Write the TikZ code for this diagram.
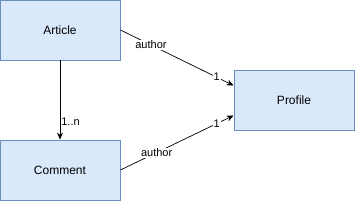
\documentclass[tikz,border=0pt]{standalone}
\usepackage{fontspec}
\setmainfont{Liberation Sans}
\usetikzlibrary{arrows.meta}
\definecolor{boxfill}{HTML}{DAE8FC}
\definecolor{boxline}{HTML}{6C8EBF}
\begin{document}
\begin{tikzpicture}[>={Stealth[length=7pt,width=6pt]},x=1pt,y=-1pt,
	entity/.style={draw=boxline,fill=boxfill,line width=0.8pt,minimum width=120pt,minimum height=60pt,font=\fontsize{12}{14}\selectfont},
	lbl/.style={fill=white,inner sep=1pt,font=\fontsize{11}{13}\selectfont}]
	\useasboundingbox (0,0) rectangle (355,201);
	\node[entity] (article) at (60,30) {Article};
	\node[entity] (comment) at (60,170) {Comment};
	\node[entity] (profile) at (294,100.5) {Profile};
	\draw[->,line width=0.7pt] (article) -- (comment) node[pos=0.78,anchor=west,inner sep=1pt,font=\fontsize{11}{13}\selectfont] {1..n};
	\draw[->,line width=0.7pt] (article.east) -- ([yshift=15pt]profile.west)
		node[lbl,pos=0.27] {author} node[lbl,pos=0.85] {1};
	\draw[->,line width=0.7pt] (comment.east) -- ([yshift=-15pt]profile.west)
		node[lbl,pos=0.32] {author} node[lbl,pos=0.85] {1};
\end{tikzpicture}
\end{document}
